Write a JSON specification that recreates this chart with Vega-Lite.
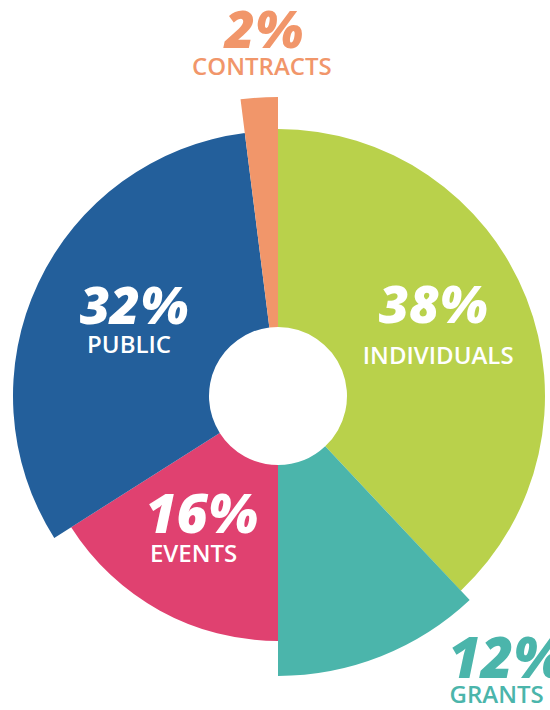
{
  "$schema": "https://vega.github.io/schema/vega-lite/v6.json",
  "autosize": "none",
  "width": 544,
  "height": 628,
  "padding": {"left": 6, "top": 82, "right": 0, "bottom": 0},
  "background": "white",
  "view": {"stroke": null},
  "data": {"values": [
    {"category": "INDIVIDUALS", "share": 0.38, "order": 1},
    {"category": "GRANTS", "share": 0.12, "order": 2},
    {"category": "EVENTS", "share": 0.16, "order": 3},
    {"category": "PUBLIC", "share": 0.32, "order": 4},
    {"category": "CONTRACTS", "share": 0.02, "order": 5}
  ]},
  "transform": [
    {"stack": "share", "groupby": [], "sort": [{"field": "order", "order": "ascending"}], "as": ["start", "end"]},
    {"calculate": "(datum.start + datum.end) / 2", "as": "mid"}
  ],
  "encoding": {
    "theta": {"field": "start", "type": "quantitative", "scale": {"domain": [0, 1]}},
    "theta2": {"field": "end"},
    "color": {
      "field": "category", "type": "nominal", "legend": null,
      "scale": {
        "domain": ["INDIVIDUALS", "GRANTS", "EVENTS", "PUBLIC", "CONTRACTS"],
        "range": ["#B9D14B", "#4BB5AB", "#E04170", "#235F9B", "#F1966A"]
      }
    }
  },
  "layer": [
    {
      "transform": [{"filter": "datum.category === 'INDIVIDUALS'"}],
      "layer": [
        {"mark": {"type": "arc", "innerRadius": 69, "outerRadius": 267}},
        {"mark": {"type": "text", "radius": 168, "dx": -1, "dy": -11, "font": "Open Sans", "fontSize": 52, "fontWeight": 800, "fontStyle": "italic", "color": "white", "align": "center", "baseline": "alphabetic"},
         "encoding": {"theta": {"field": "mid", "type": "quantitative"}, "theta2": null, "color": null, "text": {"field": "share", "format": ".0%"}}},
        {"mark": {"type": "text", "radius": 168, "dx": 4, "dy": 30, "font": "Open Sans", "fontSize": 24, "fontWeight": 600, "color": "white", "align": "center", "baseline": "alphabetic"},
         "encoding": {"theta": {"field": "mid", "type": "quantitative"}, "theta2": null, "color": null, "text": {"field": "category"}}}
      ]
    },
    {
      "transform": [{"filter": "datum.category === 'GRANTS'"}],
      "layer": [
        {"mark": {"type": "arc", "innerRadius": 69, "outerRadius": 280}},
        {"mark": {"type": "text", "radius": 355, "dx": 98, "dy": -48, "font": "Open Sans", "fontSize": 56, "fontWeight": 800, "fontStyle": "italic", "color": "#4BB5AB", "align": "center", "baseline": "alphabetic"},
         "encoding": {"theta": {"field": "mid", "type": "quantitative"}, "theta2": null, "color": null, "text": {"field": "share", "format": ".0%"}}},
        {"mark": {"type": "text", "radius": 355, "dx": 88, "dy": -23, "font": "Open Sans", "fontSize": 24, "fontWeight": 600, "color": "#4BB5AB", "align": "center", "baseline": "alphabetic"},
         "encoding": {"theta": {"field": "mid", "type": "quantitative"}, "theta2": null, "color": null, "text": {"field": "category"}}}
      ]
    },
    {
      "transform": [{"filter": "datum.category === 'EVENTS'"}],
      "layer": [
        {"mark": {"type": "arc", "innerRadius": 69, "outerRadius": 245}},
        {"mark": {"type": "text", "radius": 169, "dx": 5, "dy": -11, "font": "Open Sans", "fontSize": 54, "fontWeight": 800, "fontStyle": "italic", "color": "white", "align": "center", "baseline": "alphabetic"},
         "encoding": {"theta": {"field": "mid", "type": "quantitative"}, "theta2": null, "color": null, "text": {"field": "share", "format": ".0%"}}},
        {"mark": {"type": "text", "radius": 169, "dx": -3, "dy": 18, "font": "Open Sans", "fontSize": 24, "fontWeight": 600, "color": "white", "align": "center", "baseline": "alphabetic"},
         "encoding": {"theta": {"field": "mid", "type": "quantitative"}, "theta2": null, "color": null, "text": {"field": "category"}}}
      ]
    },
    {
      "transform": [{"filter": "datum.category === 'PUBLIC'"}],
      "layer": [
        {"mark": {"type": "arc", "innerRadius": 69, "outerRadius": 265}},
        {"mark": {"type": "text", "radius": 158, "dx": -1, "dy": -5, "font": "Open Sans", "fontSize": 52, "fontWeight": 800, "fontStyle": "italic", "color": "white", "align": "center", "baseline": "alphabetic"},
         "encoding": {"theta": {"field": "mid", "type": "quantitative"}, "theta2": null, "color": null, "text": {"field": "share", "format": ".0%"}}},
        {"mark": {"type": "text", "radius": 158, "dx": -6, "dy": 24, "font": "Open Sans", "fontSize": 24, "fontWeight": 600, "color": "white", "align": "center", "baseline": "alphabetic"},
         "encoding": {"theta": {"field": "mid", "type": "quantitative"}, "theta2": null, "color": null, "text": {"field": "category"}}}
      ]
    },
    {
      "transform": [{"filter": "datum.category === 'CONTRACTS'"}],
      "layer": [
        {"mark": {"type": "arc", "innerRadius": 69, "outerRadius": 299}},
        {"mark": {"type": "text", "radius": 336, "dx": 7, "dy": -13, "font": "Open Sans", "fontSize": 52, "fontWeight": 800, "fontStyle": "italic", "color": "#F1966A", "align": "center", "baseline": "alphabetic"},
         "encoding": {"theta": {"field": "mid", "type": "quantitative"}, "theta2": null, "color": null, "text": {"field": "share", "format": ".0%"}}},
        {"mark": {"type": "text", "radius": 336, "dx": 5, "dy": 14, "font": "Open Sans", "fontSize": 24, "fontWeight": 600, "color": "#F1966A", "align": "center", "baseline": "alphabetic"},
         "encoding": {"theta": {"field": "mid", "type": "quantitative"}, "theta2": null, "color": null, "text": {"field": "category"}}}
      ]
    }
  ]
}
